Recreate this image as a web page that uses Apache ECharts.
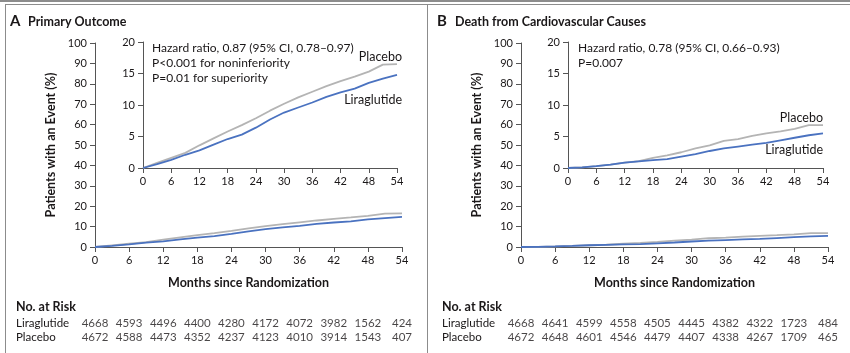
<!DOCTYPE html>
<html>
<head>
<meta charset="utf-8">
<script src="https://cdn.jsdelivr.net/npm/echarts@6/dist/echarts.min.js"></script>
<style>
  html, body { margin: 0; padding: 0; background: #fff; }
  #chart { width: 850px; height: 353px; }
</style>
</head>
<body>
<div id="chart"></div>
<script>
// months since randomization, read every 3 months
var months = [0, 3, 6, 9, 12, 15, 18, 21, 24, 27, 30, 33, 36, 39, 42, 45, 48, 51, 54];
// panel A - primary outcome (%)
var primaryPlacebo = [0, 0.8, 1.6, 2.4, 3.6, 4.7, 5.8, 6.8, 7.9, 9.1, 10.2, 11.2, 12.1, 13.0, 13.8, 14.5, 15.3, 16.4, 16.5];
var primaryLira = [0, 0.6, 1.3, 2.1, 2.8, 3.7, 4.6, 5.3, 6.4, 7.7, 8.8, 9.6, 10.4, 11.3, 12.0, 12.6, 13.5, 14.2, 14.8];
// panel B - death from cardiovascular causes (%)
var cvPlacebo = [0, 0.1, 0.3, 0.55, 0.85, 1.1, 1.6, 2.0, 2.5, 3.1, 3.6, 4.3, 4.6, 5.1, 5.5, 5.8, 6.2, 6.8, 6.8];
var cvLira = [0, 0.1, 0.3, 0.55, 0.85, 1.05, 1.25, 1.4, 1.8, 2.2, 2.7, 3.1, 3.4, 3.7, 4.0, 4.4, 4.8, 5.2, 5.5];

// numbers at risk
var riskMonths = [0, 6, 12, 18, 24, 30, 36, 42, 48, 54];
var riskRows = ['Liraglutide', 'Placebo'];
var riskPrimaryLira = [4668, 4593, 4496, 4400, 4280, 4172, 4072, 3982, 1562, 424];
var riskPrimaryPlacebo = [4672, 4588, 4473, 4352, 4237, 4123, 4010, 3914, 1543, 407];
var riskCvLira = [4668, 4641, 4599, 4558, 4505, 4445, 4382, 4322, 1723, 484];
var riskCvPlacebo = [4672, 4648, 4601, 4546, 4479, 4407, 4338, 4267, 1709, 465];

var FONT = 'Lato';
var TXT = '#1a1718';
var AX = '#555';
var GRAY = '#b4b4b4';
var BLUE = '#4a72c0';

function pairs(xs, ys) {
    return xs.map(function (x, i) { return [x, ys[i]]; });
}
function riskData(vals, row) {
    return riskMonths.map(function (m, i) { return [m, row, vals[i]]; });
}

var myChart = echarts.init(document.getElementById('chart'));

function xAx(grid, showName) {
    return {
        gridIndex: grid, type: 'value', min: 0, max: 54, interval: 6,
        name: showName ? 'Months since Randomization' : '',
        nameLocation: 'middle', nameGap: 29,
        nameTextStyle: { fontFamily: FONT, fontSize: 12.5, fontWeight: 'bold', color: TXT },
        axisLine: { lineStyle: { color: AX, width: 1 } },
        axisTick: { length: 5, lineStyle: { color: AX } },
        axisLabel: { margin: 8, fontFamily: FONT, fontSize: 11, color: TXT },
        splitLine: { show: false }
    };
}
function yAx(grid, max, interval, showName) {
    return {
        gridIndex: grid, type: 'value', min: 0, max: max, interval: interval,
        name: showName ? 'Patients with an Event (%)' : '',
        nameLocation: 'middle', nameGap: 38,
        nameTextStyle: { fontFamily: FONT, fontSize: 12.5, fontWeight: 'bold', color: TXT },
        axisLine: { show: true, lineStyle: { color: AX, width: 1 } },
        axisTick: { show: true, length: 5, lineStyle: { color: AX } },
        axisLabel: { margin: 8, fontFamily: FONT, fontSize: 11, color: TXT },
        splitLine: { show: false }
    };
}
function riskX(grid) {
    return { gridIndex: grid, type: 'value', min: 0, max: 54, show: false };
}
function riskY(grid) {
    return {
        gridIndex: grid, type: 'category', data: riskRows, inverse: true,
        axisLine: { show: false }, axisTick: { show: false },
        axisLabel: { interval: 0, align: 'left', margin: 79, fontFamily: FONT, fontSize: 11.5, color: TXT }
    };
}
function curve(xi, vals, color, z) {
    return {
        type: 'line', xAxisIndex: xi, yAxisIndex: xi, data: pairs(months, vals),
        symbol: 'none', z: z, lineStyle: { color: color, width: 1.8 }, silent: true
    };
}
function riskSeries(xi, vals, row) {
    return {
        type: 'scatter', xAxisIndex: xi, yAxisIndex: xi, data: riskData(vals, row),
        symbolSize: 1, itemStyle: { color: 'rgba(0,0,0,0)' }, silent: true,
        label: {
            show: true, position: 'inside', fontFamily: FONT, fontSize: 11.5, color: TXT,
            formatter: function (p) { return p.value[2]; }
        }
    };
}
function txt(x, y, s, opts) {
    return {
        type: 'text', x: x, y: y, silent: true,
        style: Object.assign({ text: s, fontFamily: FONT, fontSize: 12.5, fill: TXT, textVerticalAlign: 'top' }, opts || {})
    };
}
function hline(x1, x2, y, w, c) {
    return { type: 'line', silent: true, shape: { x1: x1, y1: y, x2: x2, y2: y }, style: { stroke: c, lineWidth: w } };
}
function vline(x, y1, y2, c) {
    return { type: 'line', silent: true, shape: { x1: x, y1: y1, x2: x, y2: y2 }, style: { stroke: c, lineWidth: 1 } };
}

var option = {
    animation: false,
    backgroundColor: '#fff',
    grid: [
        { left: 95, top: 43, width: 307, height: 204 },
        { left: 143, top: 42, width: 254, height: 126 },
        { left: 521, top: 43, width: 307, height: 204 },
        { left: 568, top: 42, width: 255, height: 126 },
        { left: 95, top: 316, width: 307, height: 28 },
        { left: 521, top: 316, width: 307, height: 28 }
    ],
    xAxis: [xAx(0, true), xAx(1, false), xAx(2, true), xAx(3, false), riskX(4), riskX(5)],
    yAxis: [yAx(0, 100, 10, true), yAx(1, 20, 5, false), yAx(2, 100, 10, true), yAx(3, 20, 5, false), riskY(4), riskY(5)],
    series: [
        curve(0, primaryPlacebo, GRAY, 2), curve(0, primaryLira, BLUE, 3),
        curve(1, primaryPlacebo, GRAY, 2), curve(1, primaryLira, BLUE, 3),
        curve(2, cvPlacebo, GRAY, 2), curve(2, cvLira, BLUE, 3),
        curve(3, cvPlacebo, GRAY, 2), curve(3, cvLira, BLUE, 3),
        riskSeries(4, riskPrimaryLira, 'Liraglutide'), riskSeries(4, riskPrimaryPlacebo, 'Placebo'),
        riskSeries(5, riskCvLira, 'Liraglutide'), riskSeries(5, riskCvPlacebo, 'Placebo')
    ],
    graphic: [
        hline(0, 850, 1, 2, '#8c8c8c'),
        hline(5, 850, 4.5, 1, '#8c8c8c'),
        vline(5.5, 4, 353, '#8c8c8c'),
        vline(427.5, 4, 353, '#8c8c8c'),
        txt(10, 14, 'A', { fontSize: 15, fontWeight: 'bold' }),
        txt(28, 15, 'Primary Outcome', { fontWeight: 'bold' }),
        txt(437, 14, 'B', { fontSize: 15, fontWeight: 'bold' }),
        txt(455, 15, 'Death from Cardiovascular Causes', { fontWeight: 'bold' }),
        txt(152, 41, 'Hazard ratio, 0.87 (95% CI, 0.78\u20130.97)\nP<0.001 for noninferiority\nP=0.01 for superiority', { fontSize: 12, lineHeight: 15 }),
        txt(578, 41, 'Hazard ratio, 0.78 (95% CI, 0.66\u20130.93)\nP=0.007', { fontSize: 12, lineHeight: 15 }),
        txt(402, 50, 'Placebo', { textAlign: 'right' }),
        txt(402, 93, 'Liraglutide', { textAlign: 'right' }),
        txt(823, 111, 'Placebo', { textAlign: 'right' }),
        txt(823, 143, 'Liraglutide', { textAlign: 'right' }),
        txt(16, 300, 'No. at Risk', { fontWeight: 'bold' }),
        txt(442, 300, 'No. at Risk', { fontWeight: 'bold' })
    ]
};
myChart.setOption(option);
</script>
</body>
</html>
